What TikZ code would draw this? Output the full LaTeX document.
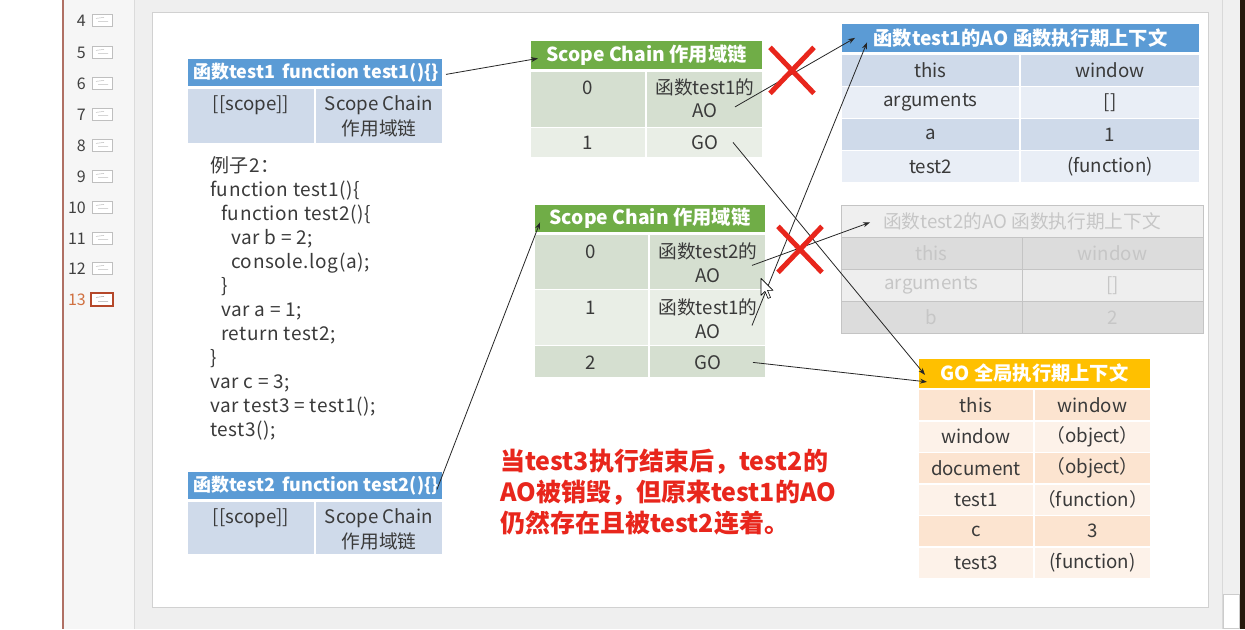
\documentclass[tikz,border=0pt]{standalone}
\usepackage{fontspec}
\setmainfont{Noto Sans CJK SC}
\usetikzlibrary{arrows.meta,calc}
\definecolor{hblue}{HTML}{5B9BD5}
\definecolor{bdark}{HTML}{CFDAEA}
\definecolor{blight}{HTML}{E9EEF6}
\definecolor{hgreen}{HTML}{70AD47}
\definecolor{gdark}{HTML}{D5DFD0}
\definecolor{glight}{HTML}{E9EEE6}
\definecolor{horange}{HTML}{FFC000}
\definecolor{odark}{HTML}{FCE4D0}
\definecolor{olight}{HTML}{FDF2E9}
\definecolor{fhead}{HTML}{EFEFEF}
\definecolor{fdark}{HTML}{DCDCDC}
\definecolor{flight}{HTML}{EEEEEE}
\definecolor{fline}{HTML}{C4C4C4}
\definecolor{ftext}{HTML}{C6C6C6}
\definecolor{txtc}{HTML}{3A3A3A}
\definecolor{xred}{HTML}{E8261C}
\definecolor{bggray}{HTML}{EFEFEF}
\definecolor{sidebg}{HTML}{F6F6F6}
\definecolor{brownline}{HTML}{B07064}
\definecolor{selred}{HTML}{B5482A}
\definecolor{selnum}{HTML}{D07040}
\tikzset{
  box/.style={anchor=north west, inner sep=0, outer sep=0, draw=white, line width=1.2pt},
  fbox/.style={anchor=north west, inner sep=0, outer sep=0, draw=fline, line width=1pt},
  txt/.style={inner sep=0, font=\fontsize{18.7}{21}\selectfont, text=txtc},
  ftxt/.style={inner sep=0, font=\fontsize{18.7}{21}\selectfont, text=ftext},
  htxt/.style={inner sep=0, font=\fontsize{19.3}{22}\selectfont\bfseries, text=white},
  fntxt/.style={inner sep=0, font=\fontsize{18}{21}\selectfont\bfseries, text=white},
  link/.style={draw=black!85, line width=0.8pt, -{Stealth[length=7pt,width=5pt]}},
  cross/.style={draw=xred, line width=5pt},
}
\begin{document}
\begin{tikzpicture}[x=1pt,y=-1pt]
% ---------- background / window chrome ----------
\fill[bggray] (0,0) rectangle (1245,629);
\fill[white] (0,0) rectangle (62,629);
\fill[brownline] (62,0) rectangle (64,629);
\fill[sidebg] (64,0) rectangle (134,629);
\fill[black!14] (134,0) rectangle (135,629);
\node[anchor=north west, inner sep=0, minimum width=1056pt, minimum height=595pt, fill=white, draw=black!18, line width=1pt] (slide) at (152,12) {};
\fill[black!6] (1222,0) rectangle (1240,629);
\draw[black!15, line width=0.8pt] (1222,0) -- (1222,629);
\node[anchor=north west, inner sep=0, minimum width=16pt, minimum height=34pt, fill=white, draw=black!20, line width=0.8pt] (thumb) at (1223,594) {};
\fill[black!80!brown] (1240,0) rectangle (1245,629);
% ---------- slide list ----------
\foreach \n/\y in {4/20,5/52,6/83,7/114,8/145,9/176,10/207,11/238,12/268}{
  \node[anchor=east, inner sep=0, font=\fontsize{16}{18}\selectfont, text=black!75] (num\n) at (86,\y) {\n};
  \draw[black!25, fill=white, line width=0.6pt] (92,\y-6) rectangle (112,\y+6);
  \draw[black!25, line width=0.5pt] (96,\y-2) -- (104,\y-3) (98,\y+1) -- (108,\y+1);
}
\node[anchor=east, inner sep=0, font=\fontsize{16}{18}\selectfont, text=selnum] (num13) at (86,299) {13};
\draw[selred, fill=white, line width=2pt] (91,293) rectangle (113,306);
\draw[black!35, line width=0.5pt] (96,297) -- (104,296) (98,301) -- (108,301);
% ---------- test1 box ----------
\node[box, fill=hblue, minimum width=256pt, minimum height=28pt] (t1h) at (187,58) {};
\node[fntxt] at ([xshift=1pt]t1h.center) {函数test1\hspace{7pt}function test1()\{\}};
\node[box, fill=bdark, minimum width=128pt, minimum height=55pt] (t1l) at (187,88) {};
\node[box, fill=bdark, minimum width=128pt, minimum height=55pt] (t1r) at (315,88) {};
\node[txt] at (251,105) {[[scope]]};
\node[txt] at (379,105) {Scope Chain};
\node[txt] at (379,128) {作用域链};
% ---------- test2 box ----------
\node[box, fill=hblue, minimum width=256pt, minimum height=28pt] (t2h) at (187,471) {};
\node[fntxt] at ([xshift=1pt]t2h.center) {函数test2\hspace{7pt}function test2()\{\}};
\node[box, fill=bdark, minimum width=128pt, minimum height=53pt] (t2l) at (187,501) {};
\node[box, fill=bdark, minimum width=128pt, minimum height=53pt] (t2r) at (315,501) {};
\node[txt] at (251,518) {[[scope]]};
\node[txt] at (379,518) {Scope Chain};
\node[txt] at (379,541) {作用域链};
% ---------- code ----------
\node[anchor=north west, align=left, inner sep=0, font=\fontsize{19}{24}\selectfont\addfontfeature{LetterSpace=3}, text=txtc] (code) at (210,156) {例子2：\\
function test1()\{\\
\hspace*{11pt}function test2()\{\\
\hspace*{21pt}var b = 2;\\
\hspace*{21pt}console.log(a);\\
\hspace*{11pt}\}\\
\hspace*{11pt}var a = 1;\\
\hspace*{11pt}return test2;\\
\}\\
var c = 3;\\
var test3 = test1();\\
test3();};
% ---------- scope chain 1 ----------
\node[box, fill=hgreen, minimum width=233pt, minimum height=29pt] (s1h) at (530,40) {};
\node[htxt] at (s1h.center) {Scope Chain 作用域链};
\node[box, fill=gdark, minimum width=116pt, minimum height=56pt] (s1r0a) at (530,71) {};
\node[box, fill=gdark, minimum width=117pt, minimum height=56pt] (s1r0b) at (646,71) {};
\node[box, fill=glight, minimum width=116pt, minimum height=30pt] (s1r1a) at (530,127) {};
\node[box, fill=glight, minimum width=117pt, minimum height=30pt] (s1r1b) at (646,127) {};
\node[txt] at (588,87) {0};
\node[txt] at (705,87) {函数test1的};
\node[txt] at (705,110) {AO};
\node[txt] at (588,142) {1};
\node[txt] at (705,142) {GO};
% ---------- scope chain 2 ----------
\node[box, fill=hgreen, minimum width=232pt, minimum height=28pt] (s2h) at (534,204) {};
\node[htxt] at (s2h.center) {Scope Chain 作用域链};
\node[box, fill=gdark, minimum width=115pt, minimum height=55pt] (s2r0a) at (534,234) {};
\node[box, fill=gdark, minimum width=117pt, minimum height=55pt] (s2r0b) at (649,234) {};
\node[box, fill=glight, minimum width=115pt, minimum height=56pt] (s2r1a) at (534,289) {};
\node[box, fill=glight, minimum width=117pt, minimum height=56pt] (s2r1b) at (649,289) {};
\node[box, fill=gdark, minimum width=115pt, minimum height=32pt] (s2r2a) at (534,345) {};
\node[box, fill=gdark, minimum width=117pt, minimum height=32pt] (s2r2b) at (649,345) {};
\node[txt] at (591,251) {0};
\node[txt] at (708,251) {函数test2的};
\node[txt] at (708,275) {AO};
\node[txt] at (591,307) {1};
\node[txt] at (708,307) {函数test1的};
\node[txt] at (708,331) {AO};
\node[txt] at (591,362) {2};
\node[txt] at (708,362) {GO};
% ---------- AO of test1 ----------
\node[box, fill=hblue, minimum width=359pt, minimum height=29pt] (ao1h) at (841,23) {};
\node[htxt] at (ao1h.center) {函数test1的AO 函数执行期上下文};
\foreach \i/\l/\r/\c in {0/this/window/bdark,1/arguments/[]/blight,2/a/1/bdark,3/test2/(function)/blight}{
  \node[box, fill=\c, minimum width=179pt, minimum height=32pt] (ao1l\i) at (841,54+32*\i) {};
  \node[box, fill=\c, minimum width=180pt, minimum height=32pt] (ao1r\i) at (1020,54+32*\i) {};
  \node[txt] at (ao1l\i.center) {\l};
  \node[txt] at (ao1r\i.center) {\r};
}
% ---------- AO of test2 (faded) ----------
\node[fbox, fill=fhead, minimum width=362pt, minimum height=32pt] (ao2h) at (841,205) {};
\node[ftxt] at (ao2h.center) {函数test2的AO 函数执行期上下文};
\foreach \i/\l/\r/\c in {0/this/window/fdark,1/arguments/[]/flight,2/b/2/fdark}{
  \node[fbox, fill=\c, minimum width=181pt, minimum height=32pt] (ao2l\i) at (841,237+32*\i) {};
  \node[fbox, fill=\c, minimum width=181pt, minimum height=32pt] (ao2r\i) at (1022,237+32*\i) {};
  \node[ftxt] at (ao2l\i.center) {\l};
  \node[ftxt] at (ao2r\i.center) {\r};
}
% ---------- GO ----------
\node[box, fill=horange, minimum width=233pt, minimum height=30pt] (goh) at (918,358) {};
\node[htxt] at (goh.center) {GO 全局执行期上下文};
\foreach \i/\l/\r/\c in {0/this/window/odark,1/window/（object）/olight,2/document/（object）/odark,3/test1/（function）/olight,4/c/3/odark,5/test3/(function)/olight}{
  \node[box, fill=\c, minimum width=116pt, minimum height=31.5pt] (gol\i) at (918,389+31.5*\i) {};
  \node[box, fill=\c, minimum width=117pt, minimum height=31.5pt] (gor\i) at (1034,389+31.5*\i) {};
  \node[txt] at (gol\i.center) {\l};
  \node[txt] at (gor\i.center) {\r};
}
% ---------- note ----------
\node[anchor=north west, align=left, inner sep=0, font=\fontsize{25}{31}\selectfont\bfseries, text=xred] (note) at (500,448) {当test3执行结束后，test2的\\AO被销毁，但原来test1的AO\\仍然存在且被test2连着。};
% ---------- connectors ----------
\draw[link] ([shift={(3,2)}]t1h.east) -- ([shift={(8,3.5)}]s1h.west);
\draw[link] ([shift={(-6,4)}]t2h.east) -- ([shift={(6,4)}]s2h.west);
\draw[link] ([shift={(30.5,7.5)}]s1r0b.center) -- ([shift={(14,0)}]ao1h.west);
\draw[link] ([shift={(28.5,0)}]s1r1b.center) -- ([shift={(7,1.5)}]goh.west);
\draw[link] ([shift={(44.5,3.5)}]s2r0b.center) -- ([shift={(29,1)}]ao2h.west);
\draw[link] ([shift={(44.5,8)}]s2r1b.center) -- ([shift={(26,4.5)}]ao1h.west);
\draw[link] ([shift={(45.5,1)}]s2r2b.center) -- ([shift={(9,8.5)}]goh.west);
% ---------- red crosses ----------
\coordinate (x1) at (792,70);
\draw[cross] ($(x1)+(-22,-23)$) -- ($(x1)+(22,23)$);
\draw[cross] ($(x1)+(22,-23)$) -- ($(x1)+(-22,23)$);
\coordinate (x2) at (800,249);
\draw[cross] ($(x2)+(-22,-23)$) -- ($(x2)+(22,23)$);
\draw[cross] ($(x2)+(22,-23)$) -- ($(x2)+(-22,23)$);
% ---------- mouse cursor ----------
\coordinate (cur) at (761,278);
\draw[fill=white, draw=black, line width=0.6pt, line join=round] (cur) -- ++(0,17) -- ++(4,-4) -- ++(3,7) -- ++(2.5,-1) -- ++(-3,-7) -- ++(5.5,0) -- cycle;
\end{tikzpicture}
\end{document}
